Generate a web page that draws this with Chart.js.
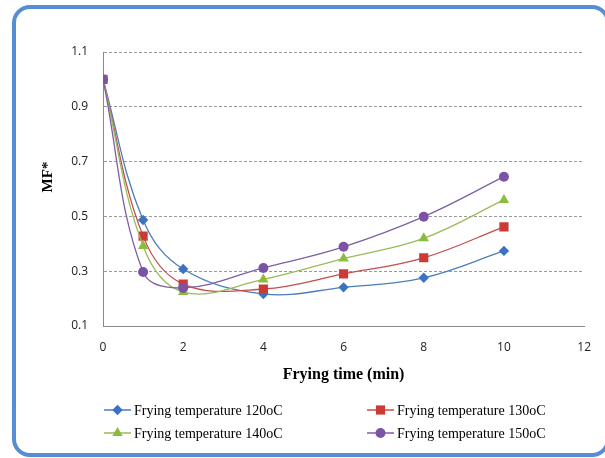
<!DOCTYPE html>
<html>
<head>
<meta charset="utf-8">
<script src="https://cdn.jsdelivr.net/npm/chart.js@4.4.1/dist/chart.umd.min.js"></script>
<style>
html,body{margin:0;padding:0;background:#fff;}
#wrap{position:relative;width:605px;height:458px;}
</style>
</head>
<body>
<div id="wrap"><canvas id="c" width="605" height="458"></canvas></div>
<script>
// ---- data ----
const times = [0, 1, 2, 4, 6, 8, 10];
const t120 = [1.0, 0.487, 0.308, 0.217, 0.241, 0.276, 0.374];
const t130 = [1.0, 0.428, 0.253, 0.235, 0.290, 0.349, 0.462];
const t140 = [1.0, 0.392, 0.224, 0.270, 0.346, 0.420, 0.560];
const t150 = [1.0, 0.297, 0.239, 0.312, 0.389, 0.499, 0.645];
const seriesLabels = ['Frying temperature 120oC','Frying temperature 130oC','Frying temperature 140oC','Frying temperature 150oC'];
const xTicks = [0, 2, 4, 6, 8, 10, 12];
const yTicks = [0.1, 0.3, 0.5, 0.7, 0.9, 1.1];
const xTitle = 'Frying time (min)';
const yTitle = 'MF*';

const colors = ['#4a7ebb', '#c0504d', '#9bbb59', '#7f5fa6'];
const markerColors = ['#3b73c2', '#cc3a36', '#8cbc3c', '#7a52a6'];
const shapes = ['rectRot', 'rect', 'triangle', 'circle'];
const radii = [5.2, 6.5, 6, 5];

const allSeries = [t120, t130, t140, t150];
const datasets = allSeries.map((vals, i) => ({
  label: seriesLabels[i],
  data: times.map((t, j) => ({x: t, y: vals[j]})),
  borderColor: colors[i],
  backgroundColor: markerColors[i],
  borderWidth: 1.3,
  pointStyle: shapes[i],
  pointRadius: radii[i],
  pointBorderWidth: 0,
  pointBackgroundColor: markerColors[i],
  tension: 0.38,
  fill: false
}));
datasets.reverse();

const frame = {
  id: 'frame',
  beforeDraw(chart) {
    const ctx = chart.ctx;
    ctx.save();
    ctx.fillStyle = '#fff';
    ctx.fillRect(0, 0, chart.width, chart.height);
    ctx.restore();
  },
  afterDraw(chart) {
    const ctx = chart.ctx;
    ctx.save();
    // rounded border
    ctx.strokeStyle = '#558ed5';
    ctx.lineWidth = 4;
    ctx.beginPath();
    ctx.roundRect(14, 7, 594, 448, 16);
    ctx.stroke();
    // y title
    ctx.fillStyle = '#000';
    ctx.font = 'bold 15px "Liberation Serif"';
    ctx.textAlign = 'center';
    ctx.textBaseline = 'alphabetic';
    ctx.translate(52, 177);
    ctx.rotate(-Math.PI / 2);
    ctx.fillText(yTitle, 0, 0);
    ctx.restore();
    // legend
    ctx.save();
    const cols = [104, 367];
    const rows = [410, 433];
    ctx.font = '14px "Liberation Serif"';
    ctx.textBaseline = 'middle';
    ctx.textAlign = 'left';
    for (let i = 0; i < seriesLabels.length; i++) {
      const x0 = cols[i % 2], y0 = rows[Math.floor(i / 2)];
      ctx.strokeStyle = colors[i];
      ctx.lineWidth = 1.5;
      ctx.beginPath();
      ctx.moveTo(x0, y0);
      ctx.lineTo(x0 + 27, y0);
      ctx.stroke();
      ctx.fillStyle = markerColors[i];
      Chart.helpers.drawPoint(ctx, {pointStyle: shapes[i], radius: radii[i], borderWidth: 0}, x0 + 13.5, y0);
      ctx.fillStyle = '#000';
      ctx.fillText(seriesLabels[i], x0 + 30, y0 + 1);
    }
    ctx.restore();
  }
};

new Chart(document.getElementById('c'), {
  type: 'line',
  data: { datasets },
  options: {
    responsive: false,
    animation: false,
    devicePixelRatio: 1,
    layout: { padding: { left: 0, top: 52, right: 18, bottom: 74 } },
    plugins: { legend: { display: false }, tooltip: { enabled: false } },
    scales: {
      x: {
        type: 'linear',
        min: 0, max: 12,
        afterBuildTicks: s => { s.ticks = xTicks.map(v => ({value: v})); },
        afterFit: s => { s.height = 58; },
        ticks: { font: { family: '"Open Sans"', size: 12 }, color: '#222', padding: 14 },
        grid: { display: false, drawTicks: false },
        border: { display: true, color: '#8a8a8a', width: 1 },
        title: { display: true, text: xTitle, color: '#000', font: { family: '"Liberation Serif"', size: 16, weight: 'bold' }, padding: { top: 0, bottom: 0 } }
      },
      y: {
        type: 'linear',
        min: 0.1, max: 1.1,
        afterBuildTicks: s => { s.ticks = yTicks.map(v => ({value: v})); },
        afterFit: s => { s.width = 103; },
        ticks: { font: { family: '"Open Sans"', size: 12 }, color: '#222', padding: 15, callback: v => v.toFixed(1) },
        grid: { color: '#9a9a9a', lineWidth: 1, drawTicks: false },
        border: { display: true, color: '#8a8a8a', width: 1, dash: [3, 2] }
      }
    }
  },
  plugins: [frame]
});
</script>
</body>
</html>
